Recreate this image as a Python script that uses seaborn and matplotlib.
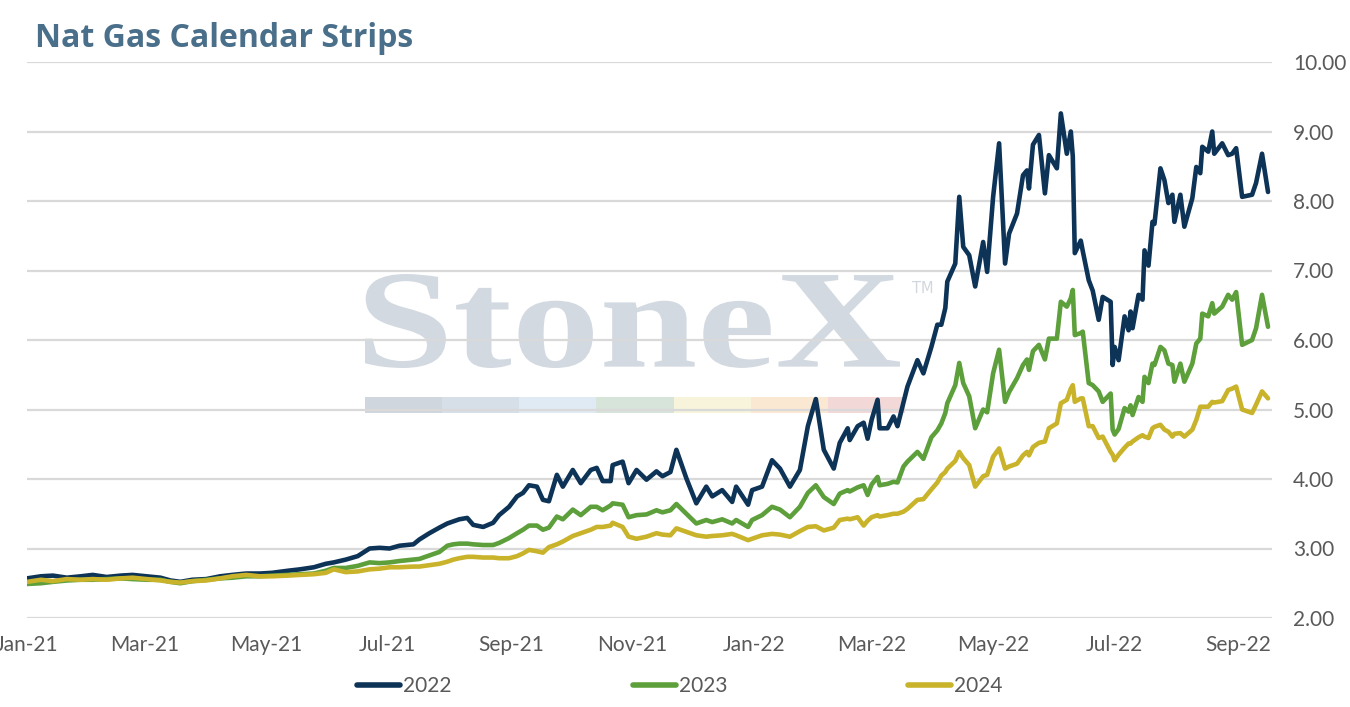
import matplotlib
matplotlib.use("Agg")
import matplotlib.pyplot as plt
import matplotlib.dates as mdates
import seaborn as sns
import pandas as pd
from matplotlib.textpath import TextPath
from matplotlib.patches import PathPatch, Rectangle
from matplotlib.transforms import Affine2D, IdentityTransform
from matplotlib.font_manager import FontProperties
from matplotlib.lines import Line2D

# ---------------- data ----------------
dates = [
    "2021-01-01", "2021-01-08", "2021-01-14", "2021-01-21", "2021-01-28", "2021-02-03", "2021-02-10",
    "2021-02-17", "2021-02-23", "2021-03-02", "2021-03-09", "2021-03-14", "2021-03-19", "2021-03-25",
    "2021-04-01", "2021-04-08", "2021-04-14", "2021-04-21", "2021-04-28", "2021-05-04", "2021-05-12",
    "2021-05-18", "2021-05-25", "2021-05-31", "2021-06-04", "2021-06-10", "2021-06-16", "2021-06-22",
    "2021-06-27", "2021-07-02", "2021-07-07", "2021-07-14", "2021-07-17", "2021-07-22", "2021-07-27",
    "2021-07-31", "2021-08-03", "2021-08-06", "2021-08-10", "2021-08-13", "2021-08-18", "2021-08-23",
    "2021-08-26", "2021-08-31", "2021-09-04", "2021-09-07", "2021-09-10", "2021-09-14", "2021-09-17",
    "2021-09-20", "2021-09-24", "2021-09-27", "2021-10-02", "2021-10-06", "2021-10-11", "2021-10-14",
    "2021-10-17", "2021-10-21", "2021-10-22", "2021-10-27", "2021-10-30", "2021-11-03", "2021-11-08",
    "2021-11-13", "2021-11-16", "2021-11-20", "2021-11-23", "2021-11-28", "2021-12-03", "2021-12-08",
    "2021-12-11", "2021-12-16", "2021-12-21", "2021-12-23", "2021-12-29", "2021-12-31", "2022-01-05",
    "2022-01-10", "2022-01-14", "2022-01-19", "2022-01-24", "2022-01-28", "2022-02-01", "2022-02-05",
    "2022-02-10", "2022-02-13",
    "2022-02-17", "2022-02-18", "2022-02-22", "2022-02-25", "2022-02-27", "2022-03-01", "2022-03-04",
    "2022-03-05", "2022-03-09", "2022-03-12", "2022-03-14", "2022-03-17", "2022-03-19", "2022-03-24",
    "2022-03-27", "2022-03-31", "2022-04-03", "2022-04-05", "2022-04-07", "2022-04-08", "2022-04-12",
    "2022-04-14", "2022-04-16", "2022-04-19", "2022-04-22", "2022-04-26", "2022-04-28", "2022-05-01",
    "2022-05-04",
    "2022-05-07", "2022-05-09", "2022-05-13", "2022-05-16", "2022-05-18", "2022-05-19", "2022-05-21",
    "2022-05-24", "2022-05-27", "2022-05-29", "2022-06-02", "2022-06-04", "2022-06-07", "2022-06-09",
    "2022-06-10", "2022-06-11", "2022-06-14", "2022-06-15", "2022-06-18", "2022-06-20", "2022-06-23",
    "2022-06-25", "2022-06-29", "2022-06-30", "2022-07-01", "2022-07-03", "2022-07-06", "2022-07-08",
    "2022-07-09", "2022-07-10", "2022-07-13", "2022-07-15", "2022-07-16", "2022-07-18", "2022-07-20",
    "2022-07-21", "2022-07-24", "2022-07-26", "2022-07-28", "2022-07-30", "2022-07-31", "2022-08-03",
    "2022-08-05", "2022-08-09", "2022-08-11", "2022-08-13", "2022-08-14", "2022-08-17", "2022-08-19",
    "2022-08-20", "2022-08-24", "2022-08-27", "2022-08-29", "2022-08-31", "2022-09-03", "2022-09-08",
    "2022-09-10", "2022-09-13", "2022-09-16",
]

strip_2022 = [
    2.57, 2.60, 2.61, 2.58, 2.60, 2.62, 2.59, 2.61, 2.62, 2.60, 2.58, 2.54, 2.52, 2.55,
    2.56, 2.60, 2.62, 2.64, 2.64, 2.65, 2.68, 2.70, 2.73, 2.78, 2.80, 2.84, 2.89, 3.00,
    3.01, 3.00, 3.04, 3.06, 3.13, 3.22, 3.30,
    3.36, 3.39, 3.42, 3.44, 3.34, 3.31, 3.37, 3.48, 3.60, 3.75, 3.80, 3.91, 3.89, 3.70,
    3.68, 4.06, 3.89, 4.13, 3.94, 4.13, 4.16, 3.97, 3.97, 4.20, 4.25, 3.94, 4.13, 3.99,
    4.11, 4.04, 4.10, 4.42, 4.01, 3.65, 3.89, 3.75, 3.84, 3.67, 3.89, 3.63, 3.84, 3.89,
    4.27, 4.15, 3.89, 4.13, 4.76, 5.15, 4.42, 4.15, 4.52,
    4.73, 4.56, 4.76, 4.81, 4.58, 4.85, 5.14, 4.73, 4.73, 4.90, 4.76, 5.10, 5.33, 5.71,
    5.52, 5.90, 6.22, 6.22, 6.46, 6.84, 7.10, 8.06, 7.34, 7.22, 6.77, 7.41, 6.98, 8.06,
    8.83,
    7.10, 7.53, 7.82, 8.37, 8.44, 8.18, 8.81, 8.95, 8.11, 8.66, 8.47, 9.26, 8.68, 9.00,
    8.64, 7.25, 7.43, 7.28, 6.86, 6.71, 6.29, 6.62, 6.55, 5.64, 5.90, 5.71, 6.34, 6.14,
    6.41, 6.17, 6.65, 6.58, 7.29, 7.07, 7.70, 7.67, 8.47, 8.30, 7.97, 8.09, 7.70, 8.09,
    7.63, 8.04, 8.49, 8.40, 8.78, 8.71, 9.00, 8.68, 8.83, 8.66, 8.68, 8.76, 8.06, 8.09,
    8.26, 8.68, 8.13,
]

strip_2023 = [
    2.49, 2.50, 2.52, 2.54, 2.55, 2.55, 2.56, 2.57, 2.56, 2.55, 2.55, 2.52, 2.50, 2.53,
    2.55, 2.57, 2.58, 2.60, 2.60, 2.61, 2.62, 2.63, 2.64, 2.68, 2.72, 2.72, 2.75, 2.80,
    2.79, 2.80, 2.82, 2.84, 2.85, 2.90, 2.95,
    3.04, 3.06, 3.07, 3.07, 3.06, 3.05, 3.05, 3.08, 3.15, 3.22, 3.27, 3.33, 3.33, 3.27,
    3.30, 3.46, 3.42, 3.56, 3.48, 3.60, 3.60, 3.55, 3.62, 3.65, 3.63, 3.45, 3.48, 3.49,
    3.55, 3.52, 3.55, 3.64, 3.50, 3.36, 3.41, 3.38, 3.42, 3.36, 3.41, 3.31, 3.41, 3.48,
    3.60, 3.56, 3.45, 3.60, 3.80, 3.91, 3.74, 3.64, 3.79,
    3.84, 3.82, 3.88, 3.91, 3.77, 3.92, 4.03, 3.91, 3.93, 3.96, 3.95, 4.18, 4.25, 4.39,
    4.29, 4.60, 4.70, 4.80, 4.95, 5.09, 5.35, 5.67, 5.38, 5.19, 4.73, 5.00, 4.96, 5.52,
    5.86,
    5.11, 5.25, 5.45, 5.64, 5.72, 5.57, 5.84, 5.93, 5.72, 6.02, 6.02, 6.55, 6.48, 6.60,
    6.72, 6.07, 6.10, 6.12, 5.38, 5.35, 5.26, 5.11, 5.23, 4.71, 4.64, 4.72, 5.02, 4.97,
    5.06, 4.92, 5.18, 5.11, 5.47, 5.38, 5.66, 5.64, 5.90, 5.85, 5.66, 5.64, 5.40, 5.66,
    5.40, 5.66, 5.95, 6.02, 6.38, 6.34, 6.53, 6.38, 6.48, 6.65, 6.58, 6.69, 5.93, 6.00,
    6.17, 6.65, 6.19,
]

strip_2024 = [
    2.52, 2.55, 2.53, 2.56, 2.55, 2.56, 2.55, 2.57, 2.58, 2.56, 2.54, 2.52, 2.51, 2.53,
    2.54, 2.57, 2.60, 2.62, 2.60, 2.60, 2.61, 2.62, 2.63, 2.65, 2.70, 2.66, 2.67, 2.70,
    2.71, 2.73, 2.73, 2.74, 2.74, 2.76, 2.78,
    2.81, 2.84, 2.86, 2.88, 2.88, 2.87, 2.87, 2.86, 2.86, 2.89, 2.93, 2.98, 2.96, 2.94,
    3.02, 3.06, 3.10, 3.18, 3.22, 3.27, 3.31, 3.31, 3.33, 3.37, 3.31, 3.17, 3.14, 3.17,
    3.22, 3.20, 3.19, 3.29, 3.24, 3.19, 3.17, 3.18, 3.19, 3.21, 3.19, 3.12, 3.14, 3.19,
    3.21, 3.20, 3.17, 3.25, 3.31, 3.32, 3.26, 3.30, 3.41,
    3.43, 3.42, 3.45, 3.33, 3.40, 3.45, 3.48, 3.46, 3.48, 3.50, 3.50, 3.53, 3.57, 3.70,
    3.71, 3.85, 3.95, 4.05, 4.10, 4.15, 4.26, 4.39, 4.30, 4.20, 3.89, 4.04, 4.06, 4.32,
    4.44,
    4.15, 4.18, 4.22, 4.34, 4.39, 4.34, 4.46, 4.52, 4.54, 4.73, 4.80, 5.09, 5.14, 5.30,
    5.35, 5.11, 5.16, 5.16, 4.76, 4.76, 4.59, 4.61, 4.39, 4.35, 4.27, 4.35, 4.45, 4.51,
    4.51, 4.54, 4.60, 4.63, 4.61, 4.59, 4.73, 4.75, 4.78, 4.71, 4.68, 4.61, 4.65, 4.66,
    4.61, 4.71, 4.85, 5.04, 5.04, 5.04, 5.11, 5.10, 5.12, 5.28, 5.30, 5.33, 5.00, 4.95,
    5.07, 5.26, 5.16,
]

series_names = ["2022", "2023", "2024"]
series_colors = ["#0d3357", "#5c9f3b", "#c9b32a"]
y_ticks = [2, 3, 4, 5, 6, 7, 8, 9, 10]
title_text = "Nat Gas Calendar Strips"

# ---------------- build frame ----------------
frames = []
for name, vals in zip(series_names, [strip_2022, strip_2023, strip_2024]):
    frames.append(pd.DataFrame({"date": pd.to_datetime(dates), "price": vals, "strip": name}))
df = pd.concat(frames, ignore_index=True)

# ---------------- style ----------------
sns.set_theme(style="white")
plt.rcParams["font.family"] = ["Lato", "DejaVu Sans"]

W, H = 1350, 707
fig = plt.figure(figsize=(W / 100, H / 100), dpi=100)
ax = fig.add_axes([27 / W, 1 - 618 / H, (1272 - 27) / W, (618 - 62) / H])

sns.lineplot(data=df, x="date", y="price", hue="strip", palette=series_colors,
             hue_order=series_names, linewidth=3.3, ax=ax, legend=False, zorder=3)

ax.set_ylim(2, 10)
ax.set_xlim(pd.Timestamp("2021-01-01"), pd.Timestamp("2022-09-18"))
ax.set_yticks(y_ticks)
ax.yaxis.set_major_formatter(matplotlib.ticker.FormatStrFormatter("%.2f"))
ax.yaxis.tick_right()
ax.xaxis.set_major_locator(mdates.MonthLocator(bymonth=[1, 3, 5, 7, 9, 11]))
ax.xaxis.set_major_formatter(mdates.DateFormatter("%b-%y"))
ax.tick_params(axis="y", length=0, pad=15, labelsize=15, labelcolor="#595959")
ax.tick_params(axis="x", length=0, pad=12, labelsize=15, labelcolor="#595959")
ax.set_xlabel("")
ax.set_ylabel("")
for s in ax.spines.values():
    s.set_visible(False)
ax.set_axisbelow(True)
ax.yaxis.grid(True, color="#d9d9d9", linewidth=1.6)
ax.xaxis.grid(False)

# ---------------- watermark (decorative logo) ----------------
tp = TextPath((0, 0), "StoneX", size=100,
              prop=FontProperties(family="Liberation Serif", weight="bold"))
ext = tp.get_extents()
sx = (900 - 365) / ext.width
sy = (368 - 274) / ext.height
tr = Affine2D().translate(-ext.x0, -ext.y0).scale(sx, sy).translate(365, H - 368)
ax.add_patch(PathPatch(tp, transform=tr, facecolor="#d3d9e1", edgecolor="none", zorder=0.2))
bar_colors = ["#d0d6dd", "#d6dee8", "#e0eaf4", "#d6e4d9", "#f8f4dc", "#fae8d2", "#f3d8d8"]
seg = (905 - 365) / len(bar_colors)
for i, c in enumerate(bar_colors):
    ax.add_patch(Rectangle((365 + i * seg, H - 413), seg, 16, transform=IdentityTransform(),
                           facecolor=c, edgecolor="none", zorder=0.2))
fig.text(912 / W, 1 - 293 / H, "TM", fontsize=10.5, color="#d0d7df", ha="left",
         va="baseline", family="DejaVu Sans")

# ---------------- title ----------------
fig.text(35 / W, 1 - 47 / H, title_text, fontsize=23, fontweight="bold",
         family=["Open Sans", "DejaVu Sans"], color="#4a6f8a", ha="left", va="baseline")

# ---------------- legend ----------------
handles = [Line2D([0], [0], color=c, linewidth=4) for c in series_colors]
fig.legend(handles, series_names, loc="center", bbox_to_anchor=(680 / W, 1 - 686 / H),
           ncol=3, frameon=False, fontsize=15, handlelength=2.05, handletextpad=0.15,
           columnspacing=8.7, labelcolor="#595959")

fig.savefig("out.png", dpi=100)
